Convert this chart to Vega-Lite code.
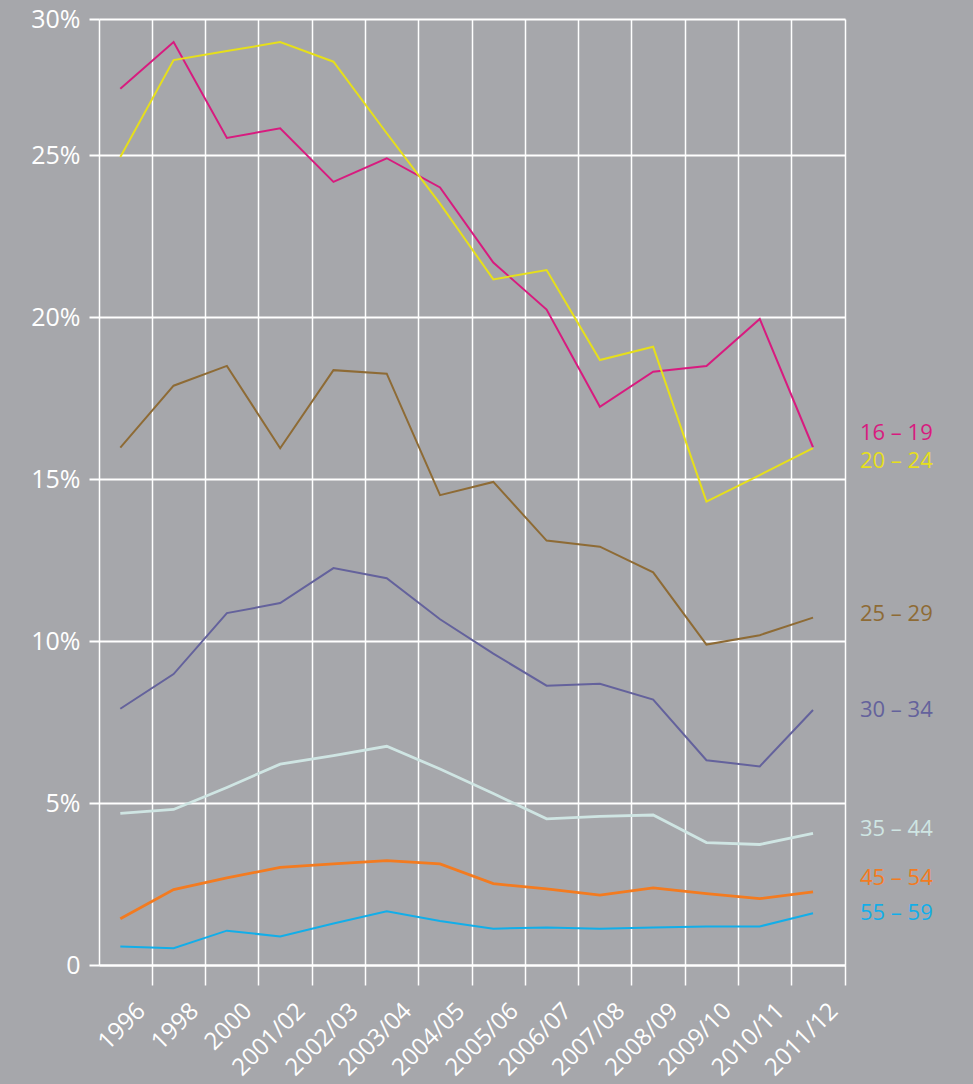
{
  "$schema": "https://vega.github.io/schema/vega-lite/v6.json",
  "width": 746,
  "height": 946,
  "autosize": {"type": "none"},
  "padding": {"left": 99, "top": 19, "right": 128, "bottom": 119},
  "background": "#a6a7ab",
  "config": {
    "view": {"stroke": null},
    "font": "Open Sans",
    "text": {"font": "Open Sans"}
  },
  "datasets": {
    "rates": [
      {"period": "1996", "group": "16 – 19", "value": 27.44},
      {"period": "1998", "group": "16 – 19", "value": 29.15},
      {"period": "2000", "group": "16 – 19", "value": 25.63},
      {"period": "2001/02", "group": "16 – 19", "value": 25.98},
      {"period": "2002/03", "group": "16 – 19", "value": 24.17},
      {"period": "2003/04", "group": "16 – 19", "value": 24.9},
      {"period": "2004/05", "group": "16 – 19", "value": 24.0},
      {"period": "2005/06", "group": "16 – 19", "value": 21.68},
      {"period": "2006/07", "group": "16 – 19", "value": 20.23},
      {"period": "2007/08", "group": "16 – 19", "value": 17.23},
      {"period": "2008/09", "group": "16 – 19", "value": 18.31},
      {"period": "2009/10", "group": "16 – 19", "value": 18.49},
      {"period": "2010/11", "group": "16 – 19", "value": 19.94},
      {"period": "2011/12", "group": "16 – 19", "value": 15.98},
      {"period": "1996", "group": "20 – 24", "value": 24.94},
      {"period": "1998", "group": "20 – 24", "value": 28.49},
      {"period": "2000", "group": "20 – 24", "value": 28.82},
      {"period": "2001/02", "group": "20 – 24", "value": 29.15},
      {"period": "2002/03", "group": "20 – 24", "value": 28.43},
      {"period": "2003/04", "group": "20 – 24", "value": 25.8},
      {"period": "2004/05", "group": "20 – 24", "value": 23.5},
      {"period": "2005/06", "group": "20 – 24", "value": 21.16},
      {"period": "2006/07", "group": "20 – 24", "value": 21.45},
      {"period": "2007/08", "group": "20 – 24", "value": 18.67},
      {"period": "2008/09", "group": "20 – 24", "value": 19.08},
      {"period": "2009/10", "group": "20 – 24", "value": 14.3},
      {"period": "2010/11", "group": "20 – 24", "value": 15.12},
      {"period": "2011/12", "group": "20 – 24", "value": 15.95},
      {"period": "1996", "group": "25 – 29", "value": 15.97},
      {"period": "1998", "group": "25 – 29", "value": 17.88},
      {"period": "2000", "group": "25 – 29", "value": 18.49},
      {"period": "2001/02", "group": "25 – 29", "value": 15.95},
      {"period": "2002/03", "group": "25 – 29", "value": 18.36},
      {"period": "2003/04", "group": "25 – 29", "value": 18.25},
      {"period": "2004/05", "group": "25 – 29", "value": 14.5},
      {"period": "2005/06", "group": "25 – 29", "value": 14.91},
      {"period": "2006/07", "group": "25 – 29", "value": 13.1},
      {"period": "2007/08", "group": "25 – 29", "value": 12.91},
      {"period": "2008/09", "group": "25 – 29", "value": 12.12},
      {"period": "2009/10", "group": "25 – 29", "value": 9.89},
      {"period": "2010/11", "group": "25 – 29", "value": 10.18},
      {"period": "2011/12", "group": "25 – 29", "value": 10.72},
      {"period": "1996", "group": "30 – 34", "value": 7.91},
      {"period": "1998", "group": "30 – 34", "value": 8.98},
      {"period": "2000", "group": "30 – 34", "value": 10.86},
      {"period": "2001/02", "group": "30 – 34", "value": 11.17},
      {"period": "2002/03", "group": "30 – 34", "value": 12.25},
      {"period": "2003/04", "group": "30 – 34", "value": 11.94},
      {"period": "2004/05", "group": "30 – 34", "value": 10.67},
      {"period": "2005/06", "group": "30 – 34", "value": 9.61},
      {"period": "2006/07", "group": "30 – 34", "value": 8.62},
      {"period": "2007/08", "group": "30 – 34", "value": 8.68},
      {"period": "2008/09", "group": "30 – 34", "value": 8.19},
      {"period": "2009/10", "group": "30 – 34", "value": 6.32},
      {"period": "2010/11", "group": "30 – 34", "value": 6.13},
      {"period": "2011/12", "group": "30 – 34", "value": 7.87},
      {"period": "1996", "group": "35 – 44", "value": 4.68},
      {"period": "1998", "group": "35 – 44", "value": 4.8},
      {"period": "2000", "group": "35 – 44", "value": 5.48},
      {"period": "2001/02", "group": "35 – 44", "value": 6.2},
      {"period": "2002/03", "group": "35 – 44", "value": 6.46},
      {"period": "2003/04", "group": "35 – 44", "value": 6.75},
      {"period": "2004/05", "group": "35 – 44", "value": 6.05},
      {"period": "2005/06", "group": "35 – 44", "value": 5.29},
      {"period": "2006/07", "group": "35 – 44", "value": 4.51},
      {"period": "2007/08", "group": "35 – 44", "value": 4.59},
      {"period": "2008/09", "group": "35 – 44", "value": 4.63},
      {"period": "2009/10", "group": "35 – 44", "value": 3.78},
      {"period": "2010/11", "group": "35 – 44", "value": 3.72},
      {"period": "2011/12", "group": "35 – 44", "value": 4.06},
      {"period": "1996", "group": "45 – 54", "value": 1.43},
      {"period": "1998", "group": "45 – 54", "value": 2.33},
      {"period": "2000", "group": "45 – 54", "value": 2.69},
      {"period": "2001/02", "group": "45 – 54", "value": 3.01},
      {"period": "2002/03", "group": "45 – 54", "value": 3.12},
      {"period": "2003/04", "group": "45 – 54", "value": 3.22},
      {"period": "2004/05", "group": "45 – 54", "value": 3.12},
      {"period": "2005/06", "group": "45 – 54", "value": 2.51},
      {"period": "2006/07", "group": "45 – 54", "value": 2.35},
      {"period": "2007/08", "group": "45 – 54", "value": 2.16},
      {"period": "2008/09", "group": "45 – 54", "value": 2.38},
      {"period": "2009/10", "group": "45 – 54", "value": 2.2},
      {"period": "2010/11", "group": "45 – 54", "value": 2.05},
      {"period": "2011/12", "group": "45 – 54", "value": 2.26},
      {"period": "1996", "group": "55 – 59", "value": 0.57},
      {"period": "1998", "group": "55 – 59", "value": 0.52},
      {"period": "2000", "group": "55 – 59", "value": 1.06},
      {"period": "2001/02", "group": "55 – 59", "value": 0.88},
      {"period": "2002/03", "group": "55 – 59", "value": 1.28},
      {"period": "2003/04", "group": "55 – 59", "value": 1.66},
      {"period": "2004/05", "group": "55 – 59", "value": 1.36},
      {"period": "2005/06", "group": "55 – 59", "value": 1.12},
      {"period": "2006/07", "group": "55 – 59", "value": 1.16},
      {"period": "2007/08", "group": "55 – 59", "value": 1.12},
      {"period": "2008/09", "group": "55 – 59", "value": 1.16},
      {"period": "2009/10", "group": "55 – 59", "value": 1.19},
      {"period": "2010/11", "group": "55 – 59", "value": 1.19},
      {"period": "2011/12", "group": "55 – 59", "value": 1.6}
    ]
  },
  "data": {"name": "rates"},
  "encoding": {
    "y": {
      "field": "value",
      "type": "quantitative",
      "scale": {"domain": [0, 25, 30], "range": [946, 136, 0]},
      "axis": {
        "title": null,
        "values": [0, 5, 10, 15, 20, 25, 30],
        "labelExpr": "datum.value == 0 ? '0' : datum.value + '%'",
        "labelColor": "white",
        "labelFont": "Open Sans",
        "labelFontSize": 25,
        "labelPadding": 9,
        "tickColor": "white",
        "tickSize": 10,
        "tickWidth": 2,
        "grid": true,
        "gridColor": "white",
        "gridWidth": 2,
        "gridOpacity": 1,
        "domain": true,
        "domainColor": "white",
        "domainWidth": 1.5
      }
    },
    "color": {
      "field": "group",
      "type": "nominal",
      "scale": {
        "domain": ["16 – 19", "20 – 24", "25 – 29", "30 – 34", "35 – 44", "45 – 54", "55 – 59"],
        "range": ["#d81b7f", "#e6df1b", "#8e6b35", "#64629c", "#cfe5e3", "#f37b20", "#12aee9"]
      },
      "legend": null
    }
  },
  "layer": [
    {
      "transform": [{"filter": "indexof(['35 – 44','45 – 54'], datum.group) < 0"}],
      "mark": {"type": "line", "strokeWidth": 2, "strokeJoin": "miter"},
      "encoding": {
        "x": {
          "field": "period",
          "type": "ordinal",
          "bandPosition": 0.4,
          "scale": {
            "type": "band",
            "paddingInner": 0,
            "paddingOuter": 0,
            "domain": ["1996", "1998", "2000", "2001/02", "2002/03", "2003/04", "2004/05", "2005/06", "2006/07", "2007/08", "2008/09", "2009/10", "2010/11", "2011/12"]
          },
          "axis": {
            "title": null,
            "bandPosition": 1,
            "labelAngle": -45,
            "labelAlign": "right",
            "labelBaseline": "middle",
            "labelColor": "white",
            "labelFont": "Open Sans",
            "labelFontSize": 24,
            "labelPadding": 22,
            "labelOffset": 16,
            "tickColor": "white",
            "tickSize": 20,
            "tickWidth": 1.5,
            "grid": true,
            "gridColor": "white",
            "gridWidth": 1.5,
            "gridOpacity": 1,
            "domain": true,
            "domainColor": "white",
            "domainWidth": 2
          }
        }
      }
    },
    {
      "transform": [{"filter": "indexof(['35 – 44','45 – 54'], datum.group) >= 0"}],
      "mark": {"type": "line", "strokeWidth": 2.8, "strokeJoin": "miter"},
      "encoding": {
        "x": {"field": "period", "type": "ordinal", "bandPosition": 0.4}
      }
    },
    {
      "transform": [
        {"filter": "datum.period == '2011/12'"},
        {"filter": "indexof(['30 – 34','55 – 59'], datum.group) >= 0"}
      ],
      "mark": {"type": "text", "align": "left", "baseline": "middle", "dx": 15, "dy": 0, "fontSize": 22},
      "encoding": {
        "x": {"field": "period", "type": "ordinal", "bandPosition": 1},
        "text": {"field": "group"}
      }
    },
    {
      "transform": [
        {"filter": "datum.period == '2011/12'"},
        {"filter": "indexof(['16 – 19','45 – 54'], datum.group) >= 0"}
      ],
      "mark": {"type": "text", "align": "left", "baseline": "middle", "dx": 15, "dy": -14, "fontSize": 22},
      "encoding": {
        "x": {"field": "period", "type": "ordinal", "bandPosition": 1},
        "text": {"field": "group"}
      }
    },
    {
      "transform": [
        {"filter": "datum.period == '2011/12'"},
        {"filter": "indexof(['25 – 29','35 – 44'], datum.group) >= 0"}
      ],
      "mark": {"type": "text", "align": "left", "baseline": "middle", "dx": 15, "dy": -4, "fontSize": 22},
      "encoding": {
        "x": {"field": "period", "type": "ordinal", "bandPosition": 1},
        "text": {"field": "group"}
      }
    },
    {
      "transform": [
        {"filter": "datum.period == '2011/12'"},
        {"filter": "datum.group == '20 – 24'"}
      ],
      "mark": {"type": "text", "align": "left", "baseline": "middle", "dx": 15, "dy": 13, "fontSize": 22},
      "encoding": {
        "x": {"field": "period", "type": "ordinal", "bandPosition": 1},
        "text": {"field": "group"}
      }
    }
  ]
}
